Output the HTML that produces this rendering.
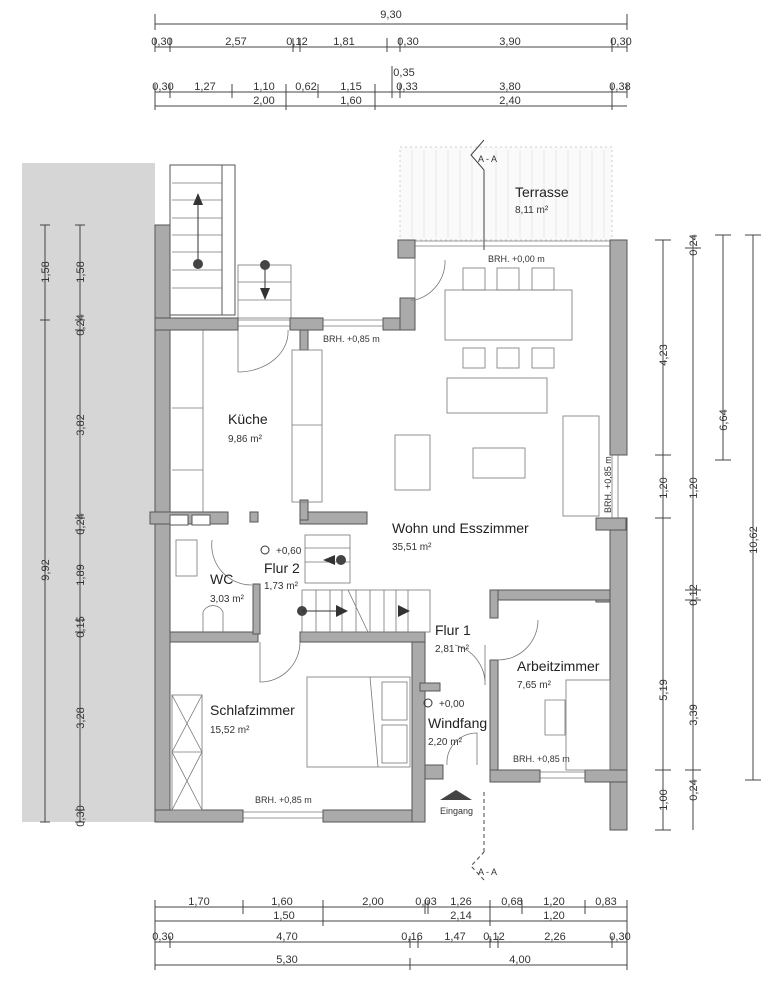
<!DOCTYPE html>
<html><head><meta charset="utf-8"><style>
html,body{margin:0;padding:0;background:#fff}
svg{display:block}
text{font-family:"Liberation Sans",sans-serif;fill:#333}
.d{font-size:11px;text-anchor:middle}
.r{font-size:14px;fill:#222}
.a{font-size:10px}
.s{font-size:9px}
.w{fill:#aaa;stroke:#555;stroke-width:1}
.l{stroke:#444;stroke-width:1;fill:none}
.t{stroke:#777;stroke-width:.8;fill:none}
</style></head><body>
<svg width="774" height="1000" viewBox="0 0 774 1000" xmlns="http://www.w3.org/2000/svg">
<!-- top dims -->
<g class="l">
<line x1="155" y1="24" x2="627" y2="24"/><line x1="155" y1="47" x2="627" y2="47"/>
<line x1="155" y1="92" x2="627" y2="92"/><line x1="155" y1="106" x2="627" y2="106"/>
</g>
<g class="l">
<path d="M155 14v16M627 14v16"/>
<path d="M155 38v14M170 38v14M293 38v14M300 38v14M387 38v14M400 38v14M612 38v14M627 38v14"/>
<path d="M155 84v26M170 84v14M232 84v14M286 84v26M318 84v14M375 84v26M392 66v32M400 84v14M612 84v26M627 84v14"/>
</g>
<g class="d">
<text x="391" y="18">9,30</text>
<text x="162" y="45">0,30</text><text x="236" y="45">2,57</text><text x="297" y="45">0,12</text><text x="344" y="45">1,81</text><text x="408" y="45">0,30</text><text x="510" y="45">3,90</text><text x="621" y="45">0,30</text>
<text x="404" y="76">0,35</text>
<text x="163" y="90">0,30</text><text x="205" y="90">1,27</text><text x="264" y="90">1,10</text><text x="306" y="90">0,62</text><text x="351" y="90">1,15</text><text x="407" y="90">0,33</text><text x="510" y="90">3,80</text><text x="620" y="90">0,38</text>
<text x="264" y="104">2,00</text><text x="351" y="104">1,60</text><text x="510" y="104">2,40</text>
</g>
<!-- left gray band -->
<rect x="22" y="163" width="133" height="659" fill="#d6d6d6"/>
<g class="l"><line x1="45" y1="225" x2="45" y2="822"/><line x1="80" y1="225" x2="80" y2="822"/>
<path d="M40 225h10M40 320h10M40 822h10M75 225h10M75 320h10M75 330h10M75 518h10M75 530h10M75 620h10M75 632h10M75 810h10M75 822h10"/></g>
<g class="d">
<text transform="translate(49,272) rotate(-90)">1,58</text><text transform="translate(84,272) rotate(-90)">1,58</text>
<text transform="translate(84,325) rotate(-90)">0,24</text><text transform="translate(84,425) rotate(-90)">3,82</text>
<text transform="translate(84,524) rotate(-90)">0,24</text><text transform="translate(84,575) rotate(-90)">1,89</text>
<text transform="translate(84,627) rotate(-90)">0,15</text><text transform="translate(84,718) rotate(-90)">3,28</text>
<text transform="translate(84,816) rotate(-90)">0,30</text><text transform="translate(49,570) rotate(-90)">9,92</text>
</g>
<!-- terrace -->
<rect x="400" y="147" width="212" height="93" fill="#fafafa" stroke="#ccc" stroke-dasharray="2,3"/>
<g stroke="#ddd" stroke-width=".6">
<path d="M412 150v88M424 150v88M436 150v88M448 150v88M460 150v88M472 150v88M496 150v88M508 150v88M520 150v88M532 150v88M544 150v88M556 150v88M568 150v88M580 150v88M592 150v88M604 150v88"/></g>
<text class="r" x="515" y="197">Terrasse</text><text class="a" x="515" y="213">8,11 m²</text>
<!-- section line -->
<g class="l"><path d="M484 140l-13 15 13 15M484 170v80" /><path d="M484 880l-13-14 13-14M484 852v-60" stroke-dasharray="4,3"/></g>
<text class="s" x="478" y="162">A - A</text><text class="s" x="478" y="875">A - A</text>
<!-- stairs outside -->
<rect x="170" y="165" width="65" height="150" fill="#fff" stroke="#555"/>
<rect x="222" y="165" width="13" height="150" fill="#fff" stroke="#555"/>
<g class="t"><path d="M172 183h50M172 200h50M172 218h50M172 235h50M172 252h50M172 270h50M172 288h50"/>
<rect x="238" y="265" width="53" height="53"/><path d="M238 282h53M238 300h53"/></g>
<path d="M198 194v70M265 265v30" stroke="#333"/>
<polygon points="198,193 193,205 203,205" fill="#333"/><polygon points="265,300 260,288 270,288" fill="#333"/>
<circle cx="198" cy="264" r="5" fill="#444"/><circle cx="265" cy="265" r="5" fill="#444"/>
<!-- walls -->
<g class="w">
<rect x="155" y="225" width="15" height="597"/>
<rect x="155" y="810" width="88" height="12"/><rect x="323" y="810" width="102" height="12"/>
<rect x="412" y="640" width="13" height="182"/>
<rect x="155" y="318" width="83" height="12"/><rect x="290" y="318" width="33" height="12"/>
<rect x="383" y="318" width="32" height="12"/><rect x="398" y="240" width="17" height="18"/><rect x="400" y="298" width="15" height="32"/>
<rect x="610" y="240" width="17" height="215"/><rect x="610" y="518" width="17" height="312"/>
<rect x="596" y="518" width="30" height="12"/><rect x="596" y="592" width="14" height="10"/>
<rect x="490" y="590" width="120" height="10"/><rect x="490" y="590" width="8" height="28"/><rect x="490" y="660" width="8" height="110"/>
<rect x="490" y="770" width="50" height="12"/><rect x="585" y="770" width="42" height="12"/>
<rect x="150" y="512" width="78" height="12"/><rect x="250" y="512" width="8" height="10"/>
<rect x="300" y="512" width="67" height="12"/><rect x="300" y="500" width="8" height="20"/><rect x="300" y="330" width="8" height="20"/>
<rect x="170" y="632" width="88" height="10"/><rect x="253" y="584" width="7" height="50"/>
<rect x="300" y="632" width="125" height="10"/><rect x="420" y="683" width="20" height="8"/>
<rect x="425" y="765" width="18" height="14"/>
</g>
<rect x="170" y="515" width="18" height="10" fill="#fff" stroke="#555"/><rect x="192" y="515" width="18" height="10" fill="#fff" stroke="#555"/>
<!-- windows -->
<g class="t"><path d="M415 241h195M415 246h195M323 320h60M323 326h60M243 812h80M243 818h80M612 455v63M618 455v63M540 772h45M540 778h45M238 320h52M238 326h52"/></g>
<!-- kitchen -->
<g class="t"><path d="M203 330v182M172 408h31M172 470h31"/><rect x="292" y="350" width="30" height="152"/><path d="M292 425h30"/>
<path d="M238 330v42M238 372a50 40 0 0 0 50-42"/><path d="M415 258v42h-4M415 300a40 40 0 0 0 30-40"/>
</g>
<text class="r" x="228" y="424">Küche</text><text class="a" x="228" y="442">9,86 m²</text>
<!-- dining -->
<g class="t"><rect x="445" y="290" width="127" height="50"/>
<rect x="463" y="268" width="22" height="22"/><rect x="497" y="268" width="22" height="22"/><rect x="532" y="268" width="22" height="22"/>
<rect x="463" y="348" width="22" height="20"/><rect x="497" y="348" width="22" height="20"/><rect x="532" y="348" width="22" height="20"/>
<rect x="447" y="378" width="100" height="35"/><rect x="395" y="435" width="35" height="55"/><rect x="473" y="448" width="52" height="30"/><rect x="563" y="416" width="36" height="100"/>
</g>
<text class="s" x="488" y="262">BRH.  +0,00 m</text><text class="s" x="323" y="342">BRH.  +0,85 m</text>
<text class="s" transform="translate(611,513) rotate(-90)">BRH.  +0,85 m</text>
<text class="r" x="392" y="533">Wohn und Esszimmer</text><text class="a" x="392" y="550">35,51 m²</text>
<!-- stairs inside -->
<g class="t"><rect x="305" y="535" width="45" height="48"/><path d="M305 548h45M305 562h45"/>
<rect x="302" y="590" width="128" height="42" stroke-dasharray="0"/><path d="M316 590v42M330 590v42M342 590v42M356 590v42M370 590v42M384 590v42M396 590v42M408 590v42M348 590l20 42"/></g>
<circle cx="341" cy="560" r="5" fill="#444"/><polygon points="323,560 335,555 335,565" fill="#333"/>
<circle cx="302" cy="611" r="5" fill="#444"/><path d="M302 611h45" stroke="#333"/><polygon points="348,611 336,605 336,617" fill="#333"/><polygon points="410,611 398,605 398,617" fill="#333"/>
<!-- WC -->
<g class="t"><rect x="176" y="540" width="21" height="36"/><path d="M202 648" /><path d="M212 540a40 40 0 0 0 40 45"/><path d="M203 632v-20a11 11 0 0 1 20 0v20"/>
<path d="M260 642v40a40 40 0 0 0 40-40"/><path d="M485 645v40a40 40 0 0 0-30-40M498 660a40 40 0 0 0 40-40M447 765a30 30 0 0 1 30-32v32"/></g>
<circle cx="265" cy="550" r="4" fill="none" stroke="#333"/><circle cx="428" cy="703" r="4" fill="none" stroke="#333"/>
<text class="a" x="276" y="554">+0,60</text><text class="r" x="264" y="573">Flur 2</text><text class="a" x="264" y="589">1,73 m²</text>
<text class="r" x="210" y="584">WC</text><text class="a" x="210" y="602">3,03 m²</text>
<text class="r" x="435" y="635">Flur 1</text><text class="a" x="435" y="652">2,81 m²</text>
<text class="a" x="439" y="707">+0,00</text><text class="r" x="428" y="728">Windfang</text><text class="a" x="428" y="745">2,20 m²</text>
<!-- Schlafzimmer -->
<g class="t"><rect x="307" y="677" width="103" height="90"/><path d="M370 677l8 90"/><rect x="382" y="682" width="25" height="38"/><rect x="382" y="725" width="25" height="38"/>
<rect x="172" y="695" width="30" height="115"/><path d="M172 695l30 57M202 695l-30 57M172 752l30 58M202 752l-30 58M172 752h30"/>
<rect x="566" y="680" width="44" height="90"/><path d="M545 700h20v35h-20z"/></g>
<text class="r" x="210" y="715">Schlafzimmer</text><text class="a" x="210" y="733">15,52 m²</text>
<text class="s" x="255" y="803">BRH.  +0,85 m</text>
<text class="r" x="517" y="671">Arbeitzimmer</text><text class="a" x="517" y="688">7,65 m²</text>
<text class="s" x="513" y="762">BRH.  +0,85 m</text>
<polygon points="440,800 456,790 472,800" fill="#444"/><text class="s" x="440" y="814">Eingang</text>
<!-- right dims -->
<g class="l"><line x1="663" y1="240" x2="663" y2="830"/><line x1="693" y1="235" x2="693" y2="830"/><line x1="723" y1="235" x2="723" y2="460"/><line x1="753" y1="235" x2="753" y2="780"/>
<path d="M655 240h16M655 455h16M655 518h16M655 770h16M655 830h16M685 248h16M685 590h16M685 600h16M685 770h16M715 235h16M715 460h16M745 235h16M745 780h16"/></g>
<g class="d">
<text transform="translate(697,245) rotate(-90)">0,24</text><text transform="translate(667,355) rotate(-90)">4,23</text>
<text transform="translate(667,488) rotate(-90)">1,20</text><text transform="translate(697,488) rotate(-90)">1,20</text>
<text transform="translate(697,595) rotate(-90)">0,12</text><text transform="translate(667,690) rotate(-90)">5,19</text>
<text transform="translate(697,715) rotate(-90)">3,39</text><text transform="translate(697,790) rotate(-90)">0,24</text>
<text transform="translate(667,800) rotate(-90)">1,00</text><text transform="translate(727,420) rotate(-90)">6,64</text>
<text transform="translate(757,540) rotate(-90)">10,62</text>
</g>
<!-- bottom dims -->
<g class="l"><line x1="155" y1="907" x2="627" y2="907"/><line x1="155" y1="921" x2="627" y2="921"/><line x1="155" y1="942" x2="627" y2="942"/><line x1="155" y1="965" x2="627" y2="965"/>
<path d="M155 900v70M243 900v14M323 900v26M425 900v14M428 900v14M490 900v26M522 900v14M585 900v14M627 900v70M170 936v12M410 936v12M418 936v12M490 936v12M498 936v12M612 936v12M410 958v12"/></g>
<g class="d">
<text x="199" y="905">1,70</text><text x="282" y="905">1,60</text><text x="373" y="905">2,00</text><text x="426" y="905">0,03</text><text x="461" y="905">1,26</text><text x="512" y="905">0,68</text><text x="554" y="905">1,20</text><text x="606" y="905">0,83</text>
<text x="284" y="919">1,50</text><text x="461" y="919">2,14</text><text x="554" y="919">1,20</text>
<text x="163" y="940">0,30</text><text x="287" y="940">4,70</text><text x="412" y="940">0,16</text><text x="455" y="940">1,47</text><text x="494" y="940">0,12</text><text x="555" y="940">2,26</text><text x="620" y="940">0,30</text>
<text x="287" y="963">5,30</text><text x="520" y="963">4,00</text>
</g>
</svg>
</body></html>
